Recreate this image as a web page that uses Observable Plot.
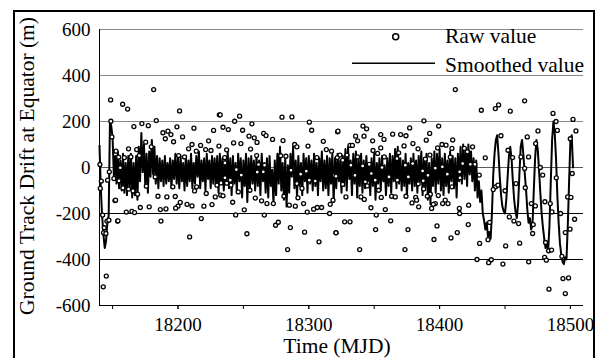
<!DOCTYPE html>
<html><head><meta charset="utf-8">
<script src="https://cdn.jsdelivr.net/npm/d3@7"></script>
<script src="https://cdn.jsdelivr.net/npm/@observablehq/plot@0.6"></script>
<style>
html,body{margin:0;padding:0;background:#fff;font-family:'Liberation Serif';}
#wrap{position:relative;width:597px;height:358px;overflow:hidden;background:#fff;}
#frame{position:absolute;left:13px;top:10px;width:578px;height:400px;border:2px solid #000;}
#wrap svg{position:absolute;left:0;top:0;}
</style></head><body>
<div id="wrap"><div id="frame"></div></div>
<script>
// ---- data ----
const xTicksMinor = [18150, 18200, 18250, 18300, 18350, 18400, 18450, 18500];
const xTickLabels = [18200, 18300, 18400, 18500];
const yTicks = [-600, -400, -200, 0, 200, 400, 600];
const gridValues = [-400, -200, 0, 200, 400, 600];

// smoothed value, one per day from MJD 18140
const smoothStart = 18140;
const smoothValues = [
  95, -90, -210, -290, -350, -320, -240, -210, 200, 180,      // 18140
  130, -40, 50, -70, 70, -90, 30, -100, 60, -110,             // 18150
  20, -120, 50, -90, 60, -130, 20, -120, 50, -140,            // 18160
  90, -60, 150, -20, 100, -80, 60, -110, 70, -40,             // 18170
  120, -30, 90, -70, 50, -90, 40, -60, 30, -80,               // 18180
  50, -70, 20, -60, 40, -90, 30, -50, 60, -70,                // 18190
  40, -90, 50, -60, 20, -100, 50, -80, 30, -60,               // 18200
  60, -90, 20, -70, 50, -40, 70, -90, 30, -60,                // 18210
  40, -100, 60, -50, 30, -90, 50, -70, 40, -80,               // 18220
  50, -110, 60, -70, 40, -100, 30, -60, 70, -90,              // 18230
  40, -120, 50, -70, 20, -110, 60, -60, 40, -130,             // 18240
  30, -80, 60, -150, 40, -90, 50, -70, 30, -100,              // 18250
  50, -80, 30, -120, 60, -60, 20, -110, 40, -130,             // 18260
  50, -80, -10, -160, 30, -120, 60, -70, 90, -100,            // 18270
  20, -140, 40, -170, 10, -110, 60, -40, 90, -90,             // 18280
  30, -130, 50, -80, 20, -120, 60, -60, 40, -110,             // 18290
  50, -70, 30, -100, 60, -80, 20, -120, 40, -60,              // 18300
  70, -100, 30, -90, 50, -120, 40, -70, 60, -150,             // 18310
  40, -90, 60, -60, 30, -110, 50, -80, 80, -100,              // 18320
  90, -50, 30, -120, 60, -70, 70, -130, 40, -80,              // 18330
  60, -110, 30, -90, 50, -60, 20, -120, 40, -80,              // 18340
  60, -140, 20, -70, 40, -100, 50, -60, 10, -120,             // 18350
  40, -80, 60, -110, 50, -60, 80, -90, 90, -70,               // 18360
  40, -100, 30, -80, 60, -130, 20, -70, 40, -100,             // 18370
  60, -80, 30, -110, 50, -60, 70, -120, 40, -90,              // 18380
  60, -140, 20, -160, 40, -80, 70, -110, 60, -70,             // 18390
  80, -100, 40, -120, 60, -80, 30, -110, 70, -60,             // 18400
  50, -90, 40, -130, 60, -60, 90, -70, 100, -50,              // 18410
  80, -80, 100, -30, 70, -60, 40, -100, 30, -130,             // 18420
  -60, -150, -100, -200, -230, -270, -240, -300, -280, -310,  // 18430
  -200, -30, 60, 120, 140, 60, -40, -120, -170, -190,         // 18440
  -200, -140, -40, 50, 90, 40, -60, -140, -190, -220,         // 18450
  -160, -30, 90, 120, 60, -20, -90, -180, -240, -220,         // 18460
  -270, -250, -100, 40, 120, 80, -10, -110, -200, -260,       // 18470
  -310, -350, -330, -360, -250, -60, 120, 200, 150, 40,       // 18480
  -120, -240, -330, -380, -410, -420, -390, -400, -250, -60,  // 18490
  120, 140, 0                                                 // 18500
];

// raw values [MJD, metres]
const rawPoints = [
  [18148.5,294],[18157.7,275],[18161.5,254],[18181.4,339],[18201.2,246],[18231.6,229],[18183.4,204],[18172.4,191],
  [18177.3,182],[18166.3,178],[18199.2,177],[18212.2,171],[18227.2,161],[18188.5,151],[18192.3,158],[18194.6,143],
  [18190.3,125],[18203.5,133],[18196.6,112],[18175.3,110],[18179.6,90],[18210.7,100],[18208.1,81],[18217.3,96],
  [18214,71],[18221.1,78],[18223.4,116],[18225.2,74],[18231.3,93],[18162.2,81],[18168.4,78],[18152.6,71],
  [18154.6,45],[18170.4,52],[18164,46],[18159,43],[18205,46],[18200.5,52],[18140.3,13],[18141.4,-59],
  [18146.2,-55],[18140.6,-91],[18147.5,-19],[18151,-48],[18154.9,-58],[18157.9,-89],[18162.2,-94],[18165.6,-102],
  [18169.1,-116],[18175.8,-81],[18182.6,-41],[18196.1,-84],[18212.7,-102],[18214.2,-84],[18221.6,-113],[18228.5,-128],
  [18184.7,-125],[18191.5,-128],[18197.9,-126],[18151.8,-144],[18201.7,-152],[18206.9,-160],[18200,-168],[18210.7,-167],
  [18219.8,-168],[18226,-161],[18171.2,-174],[18178,-171],[18186.5,-183],[18190.8,-180],[18198.2,-177],[18160.5,-194],
  [18164.8,-191],[18166.8,-196],[18145.7,-233],[18147.2,-229],[18153.8,-233],[18187,-233],[18217.8,-222],[18208.9,-302],
  [18143.6,-262],[18143.1,-284],[18145.2,-472],[18142.9,-519],[18148.7,201],[18149.5,133],[18155.9,-1],[18142.4,-207],
  [18144.9,-287],[18152.3,-142],[18154.1,-232],
  [18232.3,229],[18247.1,223],[18279.5,219],[18287.1,220],[18243.3,201],[18256.5,190],[18300.4,197],[18234.4,175],
  [18238.5,165],[18249.4,162],[18302.2,162],[18322,155],[18254.3,136],[18258.3,129],[18265.5,148],[18267.3,139],
  [18272.3,122],[18280.3,117],[18260.4,109],[18242.5,107],[18248.1,104],[18311.1,114],[18289.2,100],[18290.9,90],
  [18299.4,93],[18313.4,78],[18317.4,71],[18237.2,77],[18255.5,80],[18260.1,52],[18278.5,51],[18282.5,49],
  [18306.2,43],[18235.7,43],[18321.8,43],[18235.9,20],[18261.6,13],[18266.2,10],[18244.6,-9],[18260.6,-20],
  [18248.4,-33],[18265.2,-19],[18286.4,-12],[18298.1,-16],[18293.8,-29],[18300.4,-55],[18319.5,-35],[18235.9,-45],
  [18240,-55],[18232.9,-67],[18237.2,-68],[18229.8,-77],[18240.5,-77],[18290.9,-70],[18304.9,-59],[18294.8,-91],
  [18232.6,-120],[18234.4,-123],[18246.1,-106],[18255,-99],[18281,-125],[18285.1,-164],[18291.7,-132],[18296,-157],
  [18289.7,-168],[18259.1,-133],[18263.9,-145],[18268,-157],[18272.9,-157],[18241.8,-151],[18250.7,-184],[18244.1,-206],
  [18266,-207],[18298.8,-194],[18303.7,-181],[18306.5,-174],[18309.8,-174],[18316.4,-160],[18315.9,-200],[18318.5,-142],
  [18274.6,-251],[18276.7,-238],[18285.9,-261],[18296.8,-281],[18320.8,-283],[18252.7,-288],[18307.8,-323],[18283.8,-357],
  [18412,339],[18388,203],[18322.3,158],[18341.4,180],[18344.2,168],[18335.8,136],[18342.2,136],[18355,143],
  [18357.5,122],[18364.1,145],[18370.2,143],[18374.3,138],[18377.1,172],[18337.3,116],[18348.8,116],[18389.8,119],
  [18392.4,148],[18399.3,180],[18410,120],[18331.5,96],[18333.3,96],[18355,85],[18379.6,104],[18383.5,81],
  [18372.8,94],[18401.8,100],[18404.9,97],[18409.4,83],[18398.5,85],[18349.1,74],[18352.6,61],[18323.8,54],
  [18329.2,54],[18368.7,64],[18392.6,54],[18408.2,45],[18337.3,46],[18357.7,46],[18325.9,32],[18367.4,39],
  [18389.1,36],[18379.4,17],[18346.2,14],[18332.2,10],[18373.8,10],[18402.1,3],[18396.7,-3],[18341.2,7],
  [18356,0],[18347.8,-26],[18320.8,-38],[18387,-15],[18391.1,-34],[18405.9,-29],[18376.1,-41],[18361.3,-41],
  [18335.3,-34],[18350.8,-55],[18343.2,-62],[18387.5,-58],[18367.7,-55],[18383.7,-71],[18344.7,-80],[18409.4,-84],
  [18353.4,-99],[18325.9,-73],[18387.8,-93],[18392.9,-116],[18363.3,-125],[18366.1,-128],[18328.4,-128],[18339.9,-128],
  [18342.4,-139],[18355.4,-130],[18374.3,-125],[18381.7,-130],[18382.4,-142],[18390.6,-125],[18399,-122],[18404.3,-142],
  [18406.4,-157],[18402.3,-157],[18378.9,-154],[18396.7,-157],[18384,-171],[18347.5,-175],[18358.5,-183],[18393.9,-178],
  [18395.2,-160],[18351.6,-207],[18362.6,-232],[18327.4,-236],[18331.5,-236],[18320.8,-284],[18351.1,-270],[18375.8,-270],
  [18398,-254],[18395.7,-313],[18408.7,-306],[18413.5,-283],[18338.9,-357],[18373.5,-357],
  [18431.9,249],[18442.6,256],[18445.1,272],[18454,245],[18465,290],[18486.7,235],[18489,200],[18502,209],
  [18446.9,138],[18475.2,159],[18467,133],[18504.2,159],[18490,161],[18499.9,125],[18418.9,83],[18425.2,90],
  [18421.2,68],[18452.3,75],[18473.4,104],[18462.2,46],[18468,46],[18455.8,43],[18434.9,42],[18477,0],
  [18465,-4],[18417.6,17],[18423.5,14],[18427,14],[18430.3,-33],[18415.3,-19],[18415.6,-45],[18458.4,-70],
  [18465.5,-88],[18478.8,-33],[18489.2,-45],[18501.4,-26],[18442.8,-84],[18450,-101],[18444.6,-77],[18415.1,-178],
  [18415.3,-200],[18422.2,-164],[18441,-96],[18453.3,-215],[18460.4,-244],[18456.8,-233],[18470.1,-157],[18473.2,-167],
  [18471.6,-248],[18480.5,-149],[18484.6,-157],[18485.9,-193],[18497.9,-128],[18500.4,-130],[18503.2,-225],[18492.5,-200],
  [18499.7,-268],[18496.1,-283],[18438.2,-239],[18471.1,-287],[18421.9,-248],[18430.6,-330],[18437,-314],[18450.5,-341],
  [18461.2,-329],[18481,-326],[18483.3,-362],[18485.6,-359],[18428.6,-400],[18437.5,-414],[18439.5,-401],[18448.4,-420],
  [18468.1,-410],[18480.3,-391],[18481.6,-403],[18493.5,-386],[18494.3,-483],[18498.6,-480],[18483.6,-529],[18496.1,-548]
];

// ---- chart ----
const smooth = smoothValues.map((v, i) => ({mjd: smoothStart + i, value: v}));
const raw = rawPoints.map(([t, v]) => ({mjd: t, value: v}));
const FONT = "Liberation Serif";

const chart = Plot.plot({
  width: 597, height: 358,
  marginLeft: 99, marginRight: 14, marginTop: 29, marginBottom: 53,
  style: {background: "transparent", overflow: "visible", color: "#000"},
  x: {domain: [18140, 18510]},
  y: {domain: [-600, 600]},
  marks: [
    Plot.ruleY(gridValues.filter(d => d >= 200), {stroke: "#8a8a8a", strokeWidth: 1}),
    Plot.ruleY(gridValues.filter(d => d === 0), {stroke: "#5a5a5a", strokeWidth: 1}),
    Plot.ruleY(gridValues.filter(d => d < 0), {stroke: "#000", strokeWidth: 1}),
    Plot.ruleY([yTicks[0]], {stroke: "#000", strokeWidth: 1}),
    Plot.ruleX([18140], {stroke: "#000", strokeWidth: 1}),
    Plot.axisY({ticks: yTicks, tickSize: 0, tickPadding: 9, tickFormat: d => String(d), label: null, fontSize: 19}),
    Plot.axisX({ticks: xTicksMinor, tickSize: 4, tickFormat: () => "", label: null}),
    Plot.axisX({ticks: xTickLabels, tickSize: 4, tickPadding: 8, tickFormat: d => String(d), label: null, fontSize: 19}),
    Plot.line(smooth, {x: "mjd", y: "value", stroke: "#000", strokeWidth: 2}),
    Plot.dot(raw, {x: "mjd", y: "value", r: 2, stroke: "#000", strokeWidth: 1.3, fill: "#fff"})
  ]
});

const svg = d3.select(chart);
svg.attr("font-family", FONT).style("font-family", FONT);
const big = 21.5;
function addText() {
  return svg.append("text").attr("fill", "#000").attr("text-anchor", "start").attr("font-size", big);
}
addText().attr("transform", "translate(34,166) rotate(-90)").attr("text-anchor", "middle")
  .text("Ground Track Drift at Equator (m)");
addText().attr("x", 337).attr("y", 353).attr("text-anchor", "middle").text("Time (MJD)");
// legend
svg.append("circle").attr("cx", 395.7).attr("cy", 36.7).attr("r", 3).attr("fill", "#fff").attr("stroke", "#000").attr("stroke-width", 1.5);
addText().attr("x", 445).attr("y", 43.3).text("Raw value");
svg.append("line").attr("x1", 352).attr("x2", 435).attr("y1", 63.3).attr("y2", 63.3).attr("stroke", "#000").attr("stroke-width", 1.5);
addText().attr("x", 445).attr("y", 71.7).text("Smoothed value");
svg.selectAll("g, text").attr("font-family", FONT).style("font-family", FONT);

document.getElementById("wrap").appendChild(chart);
</script></body></html>
